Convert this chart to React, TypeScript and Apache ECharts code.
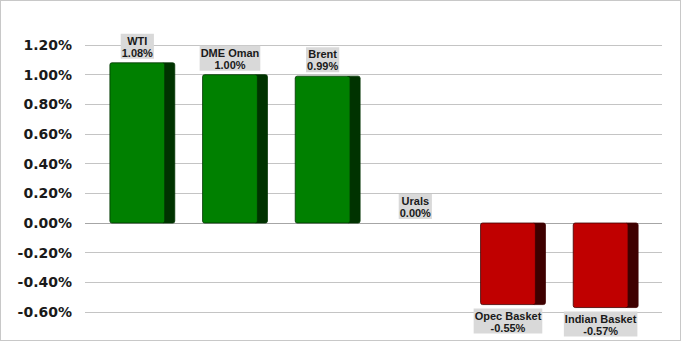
import React, { useEffect, useRef } from "react";
import * as echarts from "echarts";

// values in hundredths of a percent
const categories = ["WTI", "DME Oman", "Brent", "Urals", "Opec Basket", "Indian Basket"];
const values = [108, 100, 99, 0, -55, -57];
const axisMin = -60;
const axisMax = 120;
const axisStep = 20;

const fmt = (v: number) => (v / 100).toFixed(2) + "%";

export default function App() {
  const ref = useRef<HTMLDivElement>(null);
  useEffect(() => {
    document.body.style.margin = "0";
    if (!ref.current) return;
    const chart = echarts.init(ref.current, undefined, { renderer: "svg" });
    const gridColors = Array.from({ length: 10 }, (_, i) =>
      axisMin + i * axisStep === 0 ? "#a6a6a6" : "#c4c4c4"
    );
    chart.setOption({
      animation: false,
      backgroundColor: "#ffffff",
      grid: [
        { left: 84, right: 18, top: 44, bottom: 28 },
        { left: 95, right: 28, top: 44, bottom: 28 },
      ],
      xAxis: [
        { type: "value", gridIndex: 0, show: false, min: 0, max: 1 },
        {
          type: "category",
          gridIndex: 1,
          data: categories,
          show: false,
        },
      ],
      yAxis: [
        {
          type: "value",
          gridIndex: 0,
          min: axisMin,
          max: axisMax,
          interval: axisStep,
          axisLine: { show: false },
          axisTick: { show: false },
          splitLine: { show: true, lineStyle: { color: gridColors, width: 1 } },
          axisLabel: {
            formatter: (v: number) => fmt(v),
            margin: 13,
            fontFamily: "DejaVu Sans",
            fontWeight: "bold",
            fontSize: 14,
            color: "#1a1a1a",
          },
        },
        {
          type: "value",
          gridIndex: 1,
          min: axisMin,
          max: axisMax,
          interval: axisStep,
          show: false,
          splitLine: { show: false },
        },
      ],
      series: [
        {
          type: "custom",
          xAxisIndex: 1,
          yAxisIndex: 1,
          clip: false,
          data: values.map((v, i) => [i, v]),
          renderItem: (params: any, api: any) => {
            const idx = api.value(0);
            const val = api.value(1);
            const base = api.coord([idx, 0]);
            const top = api.coord([idx, val]);
            const bw = api.size([1, 0])[0];
            const total = bw * 0.7;
            const side = total * 0.155;
            const front = total - side;
            const x0 = base[0] - total / 2;
            const yTop = Math.min(base[1], top[1]);
            const h = Math.abs(top[1] - base[1]);
            const pos = val >= 0;
            const frontColor = pos ? "#008000" : "#c00000";
            const sideColor = pos ? "#003300" : "#3f0000";
            const children: any[] = [];
            if (h > 0.5) {
              children.push({
                type: "rect",
                shape: { x: x0 + front - 3, y: yTop, width: side + 3, height: h, r: 2 },
                style: { fill: sideColor, stroke: sideColor, lineWidth: 0.8 },
              });
              children.push({
                type: "rect",
                shape: { x: x0, y: yTop, width: front, height: h, r: 2 },
                style: { fill: frontColor, stroke: sideColor, lineWidth: 0.8 },
              });
            }
            const cx = x0 + front / 2;
            const ty = pos ? top[1] - 4 : top[1] + 4;
            children.push({
              type: "text",
              x: cx,
              y: ty,
              style: {
                text: categories[idx] + "\n" + fmt(val),
                align: "center",
                verticalAlign: pos ? "bottom" : "top",
                fontFamily: "Liberation Sans, Arial, sans-serif",
                fontWeight: "bold",
                fontSize: 11,
                lineHeight: 12,
                fill: "#1a1a1a",
                backgroundColor: "#d9d9d9",
                padding: [1, 1, 0, 1],
              },
            });
            return { type: "group", children };
          },
        },
      ],
    });
    return () => chart.dispose();
  }, []);
  return (
    <div
      style={{
        width: 681,
        height: 341,
        boxSizing: "border-box",
        border: "1px solid #c8c8c8",
        overflow: "hidden",
      }}
    >
      <div ref={ref} style={{ width: 679, height: 339 }} />
    </div>
  );
}
